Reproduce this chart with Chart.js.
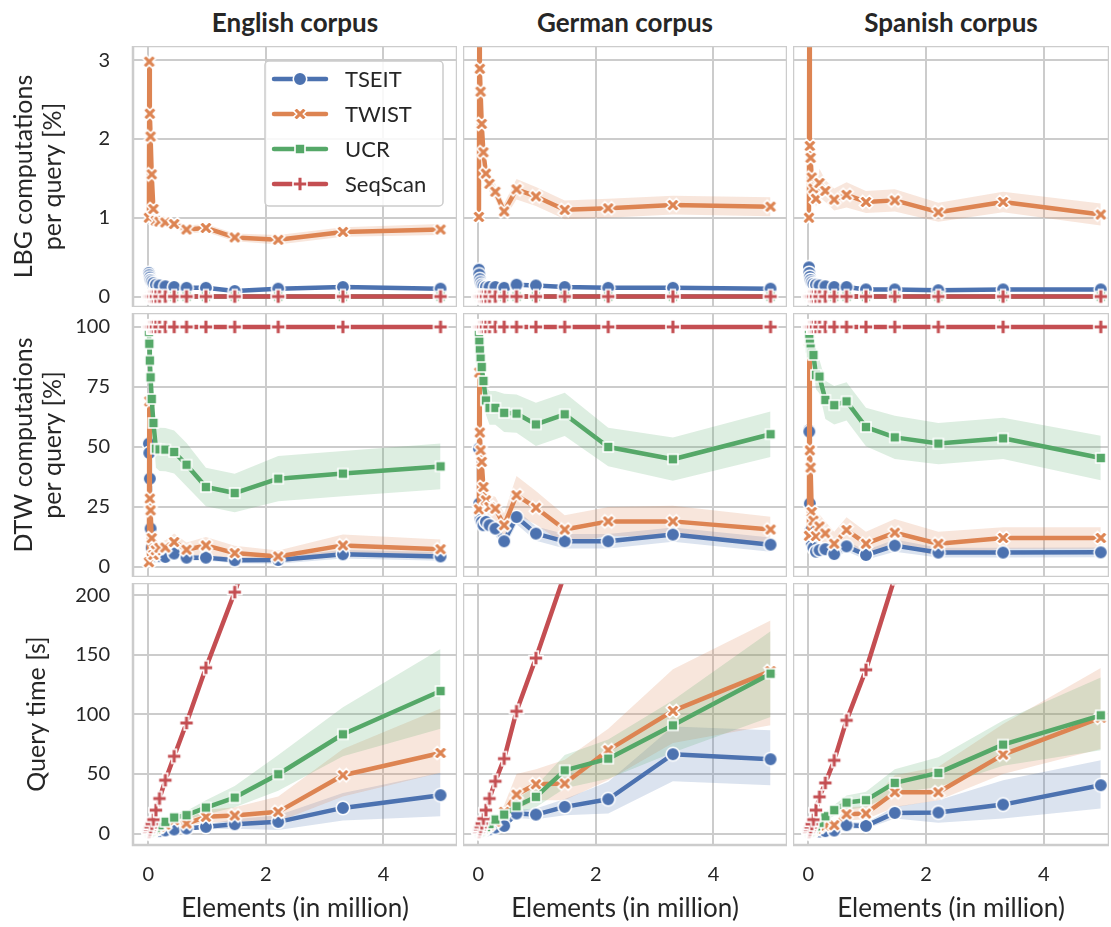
<!DOCTYPE html>
<html>
<head>
<meta charset="utf-8">
<script src="https://cdn.jsdelivr.net/npm/chart.js@4.4.1/dist/chart.umd.min.js"></script>
<style>
  body { margin: 0; background: #fff; width: 1111px; height: 927px; position: relative; overflow: hidden; font-family: Lato, sans-serif; }
  canvas { position: absolute; }
  .ttl { position: absolute; top: 7px; line-height: 30px; font-size: 26px; font-weight: bold; color: #262626; transform: translateX(-50%); white-space: nowrap; }
</style>
</head>
<body>
<div class="ttl" style="left:295px">English corpus</div>
<div class="ttl" style="left:625px">German corpus</div>
<div class="ttl" style="left:951px">Spanish corpus</div>
<script>
// elements per index (in million)
const X_ELEMENTS = [0.011, 0.017, 0.026, 0.039, 0.058, 0.087, 0.13, 0.19, 0.29, 0.44, 0.65, 0.98, 1.47, 2.21, 3.31, 4.97];

const SERIES = ['TSEIT', 'TWIST', 'UCR', 'SeqScan'];
const X_TICKS = [0, 2, 4];
const LBG_TICKS = [0, 1, 2, 3];
const DTW_TICKS = [0, 25, 50, 75, 100];
const TIME_TICKS = [0, 50, 100, 150, 200];

// --- LBG computations per query [%]
const ZERO = [0, 0, 0, 0, 0, 0, 0, 0, 0, 0, 0, 0, 0, 0, 0, 0];
const HUNDRED = [100, 100, 100, 100, 100, 100, 100, 100, 100, 100, 100, 100, 100, 100, 100, 100];

const EN_LBG_TSEIT = [0.30, 0.27, 0.24, 0.21, 0.19, 0.17, 0.15, 0.14, 0.13, 0.12, 0.11, 0.11, 0.07, 0.10, 0.12, 0.10];
const EN_LBG_TWIST = [1.00, 2.98, 2.32, 2.03, 1.55, 1.11, 0.96, 0.95, 0.94, 0.92, 0.85, 0.87, 0.75, 0.72, 0.82, 0.85];
const EN_LBG_TWIST_ERR = [0, 0, 0, 0, 0.02, 0.03, 0.04, 0.04, 0.05, 0.05, 0.05, 0.05, 0.05, 0.06, 0.06, 0.07];

const DE_LBG_TSEIT = [0.34, 0.28, 0.22, 0.18, 0.15, 0.13, 0.12, 0.12, 0.12, 0.11, 0.15, 0.14, 0.12, 0.11, 0.11, 0.10];
const DE_LBG_TWIST = [1.01, 3.60, 2.89, 2.60, 2.19, 1.83, 1.56, 1.43, 1.33, 1.08, 1.36, 1.27, 1.10, 1.12, 1.16, 1.14];
const DE_LBG_TWIST_ERR = [0, 0, 0, 0, 0.03, 0.05, 0.08, 0.1, 0.1, 0.1, 0.13, 0.12, 0.12, 0.12, 0.12, 0.12];

const ES_LBG_TSEIT = [0.37, 0.30, 0.25, 0.21, 0.18, 0.16, 0.15, 0.14, 0.13, 0.12, 0.12, 0.09, 0.09, 0.08, 0.09, 0.09];
const ES_LBG_TWIST = [1.00, 3.80, 1.91, 1.76, 1.51, 1.37, 1.24, 1.44, 1.34, 1.23, 1.29, 1.20, 1.22, 1.07, 1.20, 1.04];
const ES_LBG_TWIST_ERR = [0, 0, 0, 0, 0.05, 0.08, 0.1, 0.18, 0.14, 0.14, 0.16, 0.14, 0.14, 0.12, 0.13, 0.14];

// --- DTW computations per query [%]
const EN_DTW_TSEIT = [51.4, 47.5, 36.8, 16, 8, 5, 4.5, 4.5, 4.2, 5.6, 3.9, 3.9, 2.8, 2.9, 5.3, 4.4];
const EN_DTW_TSEIT_ERR = [0, 0, 0, 0, 1, 1, 1, 1, 1.2, 1.5, 1.2, 1.2, 1.2, 1.5, 1.8, 1.8];
const EN_DTW_TWIST = [2, 69, 28.5, 23.6, 12, 5, 7, 8, 8.1, 10.4, 7.2, 9.0, 5.8, 4.4, 9.0, 7.4];
const EN_DTW_TWIST_ERR = [0, 0, 0, 0, 1, 1.5, 2, 2.5, 3, 3.5, 3, 3.5, 3, 2.5, 4.5, 4];
const EN_DTW_UCR = [98, 93, 86, 79, 70, 60, 49.3, 49, 48.9, 47.9, 42.6, 33.3, 30.8, 36.8, 38.9, 41.9];
const EN_DTW_UCR_ERR = [0, 0, 0, 1, 2, 5, 8, 9, 9, 9, 9, 8, 8, 9.4, 9.4, 9.5];

const DE_DTW_TSEIT = [49.3, 26.4, 22.2, 20.1, 18.8, 17.4, 18.8, 17.4, 16, 10.7, 20.8, 13.9, 10.7, 10.7, 13.5, 9.3];
const DE_DTW_TSEIT_ERR = [0, 0, 1, 1.5, 2, 2, 2.5, 2.5, 3, 3, 3, 3, 3, 3, 3, 3];
const DE_DTW_TWIST = [24, 81, 56, 48.6, 43.8, 33.3, 27.8, 25, 24.3, 17.4, 29.9, 24.7, 15.6, 19, 19, 15.6];
const DE_DTW_TWIST_ERR = [0, 0, 0, 2, 3, 4, 5, 5, 5, 5, 8, 7, 6, 6, 6.5, 5.3];
const DE_DTW_UCR = [97, 93.8, 90.3, 86.8, 83.3, 77.5, 69.4, 66.3, 66.3, 64.2, 63.9, 59.4, 63.6, 50, 44.9, 55.3];
const DE_DTW_UCR_ERR = [0, 1, 2, 3, 4, 5, 6, 7, 7, 8, 8, 9, 9, 8, 9, 9.5];

const ES_DTW_TSEIT = [57, 56.4, 26.4, 15, 10, 8, 6.4, 7, 7.4, 5.4, 8.6, 5, 8.9, 6, 6, 6.1];
const ES_DTW_TSEIT_ERR = [0, 0, 1, 1.5, 1.5, 2, 2, 2, 2, 2, 2, 2, 2.5, 2, 2, 2];
const ES_DTW_TWIST = [13, 94, 48.6, 41.4, 22.9, 19.3, 12.9, 16.9, 14, 9.7, 15.4, 9.7, 14.3, 9.7, 12.1, 12.1];
const ES_DTW_TWIST_ERR = [0, 0, 0, 2, 3, 4, 4, 5, 5, 5, 5.3, 5, 5.7, 5, 4.5, 4.5];
const ES_DTW_UCR = [97, 95, 93, 91, 89, 88.3, 80, 79.3, 69.6, 67.4, 69, 58.3, 54, 51.4, 53.6, 45.4];
const ES_DTW_UCR_ERR = [0, 1, 2, 3, 4, 5, 6, 7, 8, 8, 8, 8, 9, 8.6, 8.6, 9.3];

// --- Query time [s]
const EN_TIME_TSEIT = [0.2, 0.3, 0.4, 0.6, 0.8, 1.1, 1.5, 2, 2.6, 3.4, 4.2, 5.6, 7.8, 9.8, 21.5, 32.2];
const EN_TIME_TSEIT_LO = [0.2, 0.3, 0.4, 0.5, 0.7, 0.9, 1.2, 1.6, 2, 2.5, 3, 3.5, 4, 3, 11, 14.5];
const EN_TIME_TSEIT_HI = [0.2, 0.3, 0.4, 0.7, 0.9, 1.3, 1.8, 2.5, 3.2, 4.3, 5.5, 7.5, 12, 15.4, 34, 51];
const EN_TIME_TWIST = [0.4, 0.6, 0.9, 1.3, 1.9, 2.8, 4, 5.5, 7.5, 11.2, 8.4, 14, 15.1, 18.2, 49, 67.7];
const EN_TIME_TWIST_LO = [0.4, 0.6, 0.9, 1.2, 1.6, 2.3, 3.2, 4.3, 5.8, 8, 6.5, 9, 10, 10, 31, 51];
const EN_TIME_TWIST_HI = [0.4, 0.6, 0.9, 1.5, 2.2, 3.3, 4.8, 6.7, 9.5, 14, 12, 20, 22, 31, 71, 105];
const EN_TIME_UCR = [0.5, 0.8, 1.2, 1.8, 2.5, 3.5, 5, 7, 9.8, 13.4, 15.4, 21.8, 30.2, 49.8, 83.4, 119.7];
const EN_TIME_UCR_LO = [0.5, 0.8, 1.1, 1.6, 2.2, 3, 4.2, 5.8, 7, 10, 12, 16, 22, 36, 65, 88];
const EN_TIME_UCR_HI = [0.5, 0.8, 1.3, 2, 2.8, 4, 5.8, 8.2, 13, 17, 19, 28, 40, 66, 106, 155];
const EN_TIME_SEQ = [1.5, 2.4, 3.7, 5.5, 8.2, 11.7, 19.6, 29.4, 44.8, 64.9, 92.9, 139.3, 202.8, 310, 465, 700];

const DE_TIME_TSEIT = [0.3, 0.4, 0.6, 0.9, 1.3, 1.8, 2.6, 3.6, 5, 6.4, 16.8, 15.9, 22.4, 28.8, 66.6, 62.4];
const DE_TIME_TSEIT_LO = [0.3, 0.4, 0.6, 0.8, 1.1, 1.5, 2.1, 2.9, 4, 5, 13, 12, 15.4, 16.8, 44, 40.6];
const DE_TIME_TSEIT_HI = [0.3, 0.4, 0.6, 1, 1.5, 2.1, 3.1, 4.3, 6, 8, 20, 21, 29, 43.4, 90, 86.7];
const DE_TIME_TWIST = [0.5, 0.8, 1.1, 1.6, 2.4, 3.5, 5, 7, 10, 18.2, 32.7, 41.4, 42, 70, 103, 136.5];
const DE_TIME_TWIST_LO = [0.5, 0.8, 1, 1.4, 2.1, 3, 4.2, 5.8, 8, 13, 20, 28, 28, 45, 76, 91];
const DE_TIME_TWIST_HI = [0.5, 0.8, 1.2, 1.8, 2.7, 4, 5.8, 8.2, 13, 24, 50, 54, 62, 88, 138, 179];
const DE_TIME_UCR = [0.6, 0.9, 1.3, 1.9, 2.8, 3.9, 5.5, 8, 11.7, 15.9, 22.9, 30.8, 53.1, 62.9, 90.9, 134.3];
const DE_TIME_UCR_LO = [0.6, 0.9, 1.2, 1.7, 2.5, 3.4, 4.7, 6.5, 9, 12, 17, 22, 38, 46, 68, 98];
const DE_TIME_UCR_HI = [0.6, 0.9, 1.4, 2.1, 3.1, 4.4, 6.3, 9.5, 14.5, 20, 29, 40, 66, 79, 112, 170];
const DE_TIME_SEQ = [1.6, 2.5, 3.8, 5.7, 8.5, 12.5, 19.6, 29.4, 43.9, 62.9, 102.7, 147.4, 218, 333, 500, 750];

const ES_TIME_TSEIT = [0.2, 0.3, 0.4, 0.6, 0.8, 1.0, 1.3, 1.7, 2, 2.5, 7, 6.4, 17.3, 17.6, 24.3, 40.6];
const ES_TIME_TSEIT_LO = [0.2, 0.3, 0.4, 0.5, 0.7, 0.8, 1.1, 1.4, 1.6, 2, 4, 4, 12.6, 9, 12.6, 21];
const ES_TIME_TSEIT_HI = [0.2, 0.3, 0.4, 0.7, 0.9, 1.2, 1.6, 2.1, 2.5, 3.2, 10, 9, 22.4, 28, 44.8, 61.5];
const ES_TIME_TWIST = [0.4, 0.6, 0.9, 1.3, 1.9, 2.8, 4, 5.5, 6.5, 7, 16.2, 16.8, 34.7, 34.7, 66.3, 97.3];
const ES_TIME_TWIST_LO = [0.4, 0.6, 0.8, 1.2, 1.7, 2.4, 3.4, 4.6, 5.3, 5.5, 11, 12, 22, 28, 50, 71];
const ES_TIME_TWIST_HI = [0.4, 0.6, 1, 1.5, 2.2, 3.3, 4.7, 6.5, 8, 9, 22, 23, 49, 56, 92, 139];
const ES_TIME_UCR = [0.6, 0.9, 1.3, 1.9, 2.8, 4, 6, 9, 14.5, 19.6, 26, 28, 42.5, 50.9, 74.7, 99.3];
const ES_TIME_UCR_LO = [0.6, 0.9, 1.2, 1.7, 2.5, 3.5, 5, 7.5, 11, 15, 20, 22, 34, 39, 57, 70];
const ES_TIME_UCR_HI = [0.6, 0.9, 1.4, 2.1, 3.1, 4.5, 7, 11, 18, 24, 32, 35, 54, 64, 95, 131];
const ES_TIME_SEQ = [1.5, 2.4, 3.6, 5.4, 8, 11.7, 19.6, 30.8, 42.5, 61.5, 95.1, 137.6, 215, 325, 490, 730];

// ---------------------------------------------------------------------------
const COLORS = { TSEIT: [76, 114, 176], TWIST: [221, 132, 82], UCR: [85, 168, 104], SeqScan: [196, 78, 82] };
const SHAPES = { TSEIT: 'circle', TWIST: 'x', UCR: 'square', SeqScan: 'plus' };
const SIZES = { TSEIT: 13.5, TWIST: 13.5, UCR: 10, SeqScan: 14 };
const TEXT = '#262626';
const GRID = '#cccccc';

const COL_LEFT = [133, 463, 793];
const COL_W = [324, 324, 316];
const X_MAX = [5.25, 5.25, 5.11];
const ROW_TOP = [46, 313, 583];
const ROW_H = [261, 264, 262];
const Y_MIN = [-0.133, -4.17, -9.66];
const Y_MAX = [3.179, 105.8, 210.5];
const Y_TICKS = [LBG_TICKS, DTW_TICKS, TIME_TICKS];
const Y_TITLES = [['LBG computations', 'per query [%]'], ['DTW computations', 'per query [%]'], 'Query time [s]'];
const Y_TITLE_PAD = [10, 10, 23];

function rgba(c, a) { return 'rgba(' + c[0] + ',' + c[1] + ',' + c[2] + ',' + a + ')'; }

function makeMarker(shape, color, size) {
  const c = document.createElement('canvas');
  const full = Math.ceil(size) + 6;
  c.width = c.height = full;
  const g = c.getContext('2d');
  const m = full / 2, r = size / 2;
  g.beginPath();
  if (shape === 'circle') {
    g.arc(m, m, r, 0, Math.PI * 2);
  } else if (shape === 'square') {
    g.rect(m - r, m - r, size, size);
  } else {
    const pts = [[-1/3, 1], [1/3, 1], [1/3, 1/3], [1, 1/3], [1, -1/3], [1/3, -1/3],
                 [1/3, -1], [-1/3, -1], [-1/3, -1/3], [-1, -1/3], [-1, 1/3], [-1/3, 1/3]];
    const a = shape === 'x' ? Math.PI / 4 : 0;
    const k = shape === 'x' ? r * 1.05 : r;
    pts.forEach(function (p, i) {
      const px = m + k * (p[0] * Math.cos(a) - p[1] * Math.sin(a));
      const py = m + k * (p[0] * Math.sin(a) + p[1] * Math.cos(a));
      if (i === 0) g.moveTo(px, py); else g.lineTo(px, py);
    });
    g.closePath();
  }
  g.fillStyle = rgba(color, 1);
  g.fill();
  g.lineWidth = 1.6;
  g.strokeStyle = '#ffffff';
  g.stroke();
  return c;
}

const MARKERS = {};
SERIES.forEach(function (s) { MARKERS[s] = makeMarker(SHAPES[s], COLORS[s], SIZES[s]); });

// one row per metric, one column per corpus: [values, err] or [values, low, high] per series
const PANELS = [
  [
    [[EN_LBG_TSEIT], [EN_LBG_TWIST, EN_LBG_TWIST_ERR], [ZERO], [ZERO]],
    [[DE_LBG_TSEIT], [DE_LBG_TWIST, DE_LBG_TWIST_ERR], [ZERO], [ZERO]],
    [[ES_LBG_TSEIT], [ES_LBG_TWIST, ES_LBG_TWIST_ERR], [ZERO], [ZERO]]
  ],
  [
    [[EN_DTW_TSEIT, EN_DTW_TSEIT_ERR], [EN_DTW_TWIST, EN_DTW_TWIST_ERR], [EN_DTW_UCR, EN_DTW_UCR_ERR], [HUNDRED]],
    [[DE_DTW_TSEIT, DE_DTW_TSEIT_ERR], [DE_DTW_TWIST, DE_DTW_TWIST_ERR], [DE_DTW_UCR, DE_DTW_UCR_ERR], [HUNDRED]],
    [[ES_DTW_TSEIT, ES_DTW_TSEIT_ERR], [ES_DTW_TWIST, ES_DTW_TWIST_ERR], [ES_DTW_UCR, ES_DTW_UCR_ERR], [HUNDRED]]
  ],
  [
    [[EN_TIME_TSEIT, EN_TIME_TSEIT_LO, EN_TIME_TSEIT_HI], [EN_TIME_TWIST, EN_TIME_TWIST_LO, EN_TIME_TWIST_HI], [EN_TIME_UCR, EN_TIME_UCR_LO, EN_TIME_UCR_HI], [EN_TIME_SEQ]],
    [[DE_TIME_TSEIT, DE_TIME_TSEIT_LO, DE_TIME_TSEIT_HI], [DE_TIME_TWIST, DE_TIME_TWIST_LO, DE_TIME_TWIST_HI], [DE_TIME_UCR, DE_TIME_UCR_LO, DE_TIME_UCR_HI], [DE_TIME_SEQ]],
    [[ES_TIME_TSEIT, ES_TIME_TSEIT_LO, ES_TIME_TSEIT_HI], [ES_TIME_TWIST, ES_TIME_TWIST_LO, ES_TIME_TWIST_HI], [ES_TIME_UCR, ES_TIME_UCR_LO, ES_TIME_UCR_HI], [ES_TIME_SEQ]]
  ]
];

function pts(vals) { return vals.map(function (v, i) { return { x: X_ELEMENTS[i], y: v }; }); }

function buildDatasets(panel) {
  const sets = [];
  panel.forEach(function (entry, i) {
    const name = SERIES[i], col = COLORS[name];
    const vals = entry[0];
    let lo = null, hi = null;
    if (entry.length === 2) {
      lo = vals.map(function (v, j) { return v - entry[1][j]; });
      hi = vals.map(function (v, j) { return v + entry[1][j]; });
    } else if (entry.length === 3) {
      lo = entry[1];
      hi = entry[2];
    }
    if (hi) {
      sets.push({ data: pts(hi), fill: '+1', backgroundColor: rgba(col, 0.2), borderColor: 'transparent',
                  borderWidth: 0, pointRadius: 0, order: 20 - i });
      sets.push({ data: pts(lo), fill: false, borderColor: 'transparent', borderWidth: 0, pointRadius: 0, order: 20 - i });
    }
    sets.push({
      label: name, data: pts(vals), fill: false, borderColor: rgba(col, 1), borderWidth: 4.5,
      borderJoinStyle: 'round', borderCapStyle: 'round', tension: 0,
      pointStyle: MARKERS[name], pointRadius: 6, order: 10 - i
    });
  });
  return sets;
}

const framePlugin = {
  id: 'frame',
  afterDraw: function (chart) {
    const a = chart.chartArea, ctx = chart.ctx;
    ctx.save();
    ctx.strokeStyle = GRID;
    ctx.lineWidth = 2.5;
    ctx.strokeRect(a.left, a.top, a.right - a.left, a.bottom - a.top);
    ctx.restore();
  }
};

const legendPlugin = {
  id: 'seriesLegend',
  afterDraw: function (chart, args, opts) {
    if (!opts.show) return;
    const a = chart.chartArea, ctx = chart.ctx;
    const bx = a.left + 132, by = a.top + 15, bw = 178, bh = 145;
    ctx.save();
    ctx.beginPath();
    ctx.roundRect(bx, by, bw, bh, 4);
    ctx.fillStyle = 'rgba(255,255,255,0.85)';
    ctx.fill();
    ctx.strokeStyle = GRID;
    ctx.lineWidth = 1.5;
    ctx.stroke();
    ctx.font = '22px Lato';
    ctx.textBaseline = 'middle';
    SERIES.forEach(function (name, i) {
      const y = by + 18 + i * 35;
      ctx.strokeStyle = rgba(COLORS[name], 1);
      ctx.lineWidth = 4.5;
      ctx.lineCap = 'round';
      ctx.beginPath();
      ctx.moveTo(bx + 9, y);
      ctx.lineTo(bx + 61, y);
      ctx.stroke();
      const mk = MARKERS[name];
      ctx.drawImage(mk, bx + 35 - mk.width / 2, y - mk.height / 2);
      ctx.fillStyle = TEXT;
      ctx.fillText(name, bx + 80, y + 1);
    });
    ctx.restore();
  }
};

Chart.defaults.font.family = 'Lato';
Chart.defaults.color = TEXT;

for (let row = 0; row < 3; row++) {
  for (let col = 0; col < 3; col++) {
    const cv = document.createElement('canvas');
    const left = col === 0 ? 0 : COL_LEFT[col];
    const width = col === 0 ? COL_LEFT[0] + COL_W[0] : COL_W[col];
    const axisW = col === 0 ? COL_LEFT[0] : 0;
    const axisH = row === 2 ? 927 - (ROW_TOP[2] + ROW_H[2]) : 0;
    cv.width = width;
    cv.height = ROW_H[row] + axisH;
    cv.style.left = left + 'px';
    cv.style.top = ROW_TOP[row] + 'px';
    document.body.appendChild(cv);

    new Chart(cv, {
      type: 'line',
      data: { datasets: buildDatasets(PANELS[row][col]) },
      plugins: [framePlugin, legendPlugin],
      options: {
        responsive: false,
        animation: false,
        devicePixelRatio: 1,
        events: [],
        layout: { padding: 0, autoPadding: false },
        plugins: {
          legend: { display: false },
          tooltip: { enabled: false },
          seriesLegend: { show: row === 0 && col === 0 }
        },
        scales: {
          x: {
            type: 'linear', min: -0.26, max: X_MAX[col],
            afterBuildTicks: function (s) { s.ticks = X_TICKS.map(function (v) { return { value: v }; }); },
            afterFit: function (s) { s.height = axisH; s.paddingLeft = 0; s.paddingRight = 0; },
            grid: { color: GRID, lineWidth: 2, drawTicks: false },
            border: { display: false },
            ticks: { display: row === 2, padding: 18, font: { size: 20 }, color: TEXT, maxRotation: 0 },
            title: { display: row === 2, text: 'Elements (in million)', font: { size: 26, lineHeight: 1.15 }, color: TEXT, padding: { top: 0, bottom: 3 } }
          },
          y: {
            type: 'linear', min: Y_MIN[row], max: Y_MAX[row],
            afterBuildTicks: function (s) { s.ticks = Y_TICKS[row].map(function (v) { return { value: v }; }); },
            afterFit: function (s) { s.width = axisW; s.paddingTop = 0; s.paddingBottom = 0; },
            grid: { color: GRID, lineWidth: 2, drawTicks: false },
            border: { display: false },
            ticks: { display: col === 0, padding: 23, font: { size: 20 }, color: TEXT },
            title: { display: col === 0, text: Y_TITLES[row], font: { size: 25, lineHeight: 1.15 }, color: TEXT, padding: { top: Y_TITLE_PAD[row], bottom: 0 } }
          }
        }
      }
    });
  }
}
</script>
</body>
</html>
